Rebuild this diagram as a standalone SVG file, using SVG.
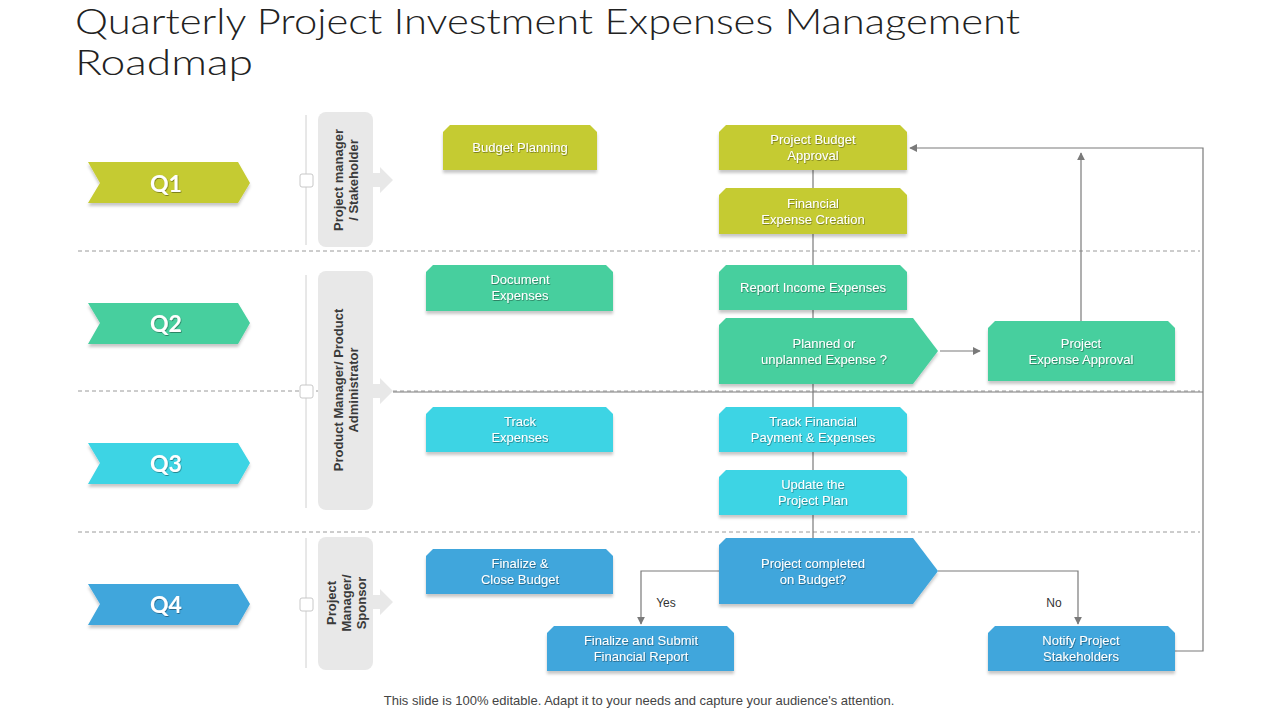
<svg xmlns="http://www.w3.org/2000/svg" width="1280" height="720" viewBox="0 0 1280 720">
<defs>
<style>
.title{font-family:"Lato","Liberation Sans",sans-serif;font-size:36px;font-weight:300;fill:#222}
.bt{font-family:"Liberation Sans",Arial,sans-serif;font-size:13px;fill:#fff;text-anchor:middle;filter:url(#ts)}
.qt{font-family:"Lato","Liberation Sans",sans-serif;font-size:23px;font-weight:bold;fill:#fff;text-anchor:middle;filter:url(#ts)}
.lane{font-family:"Liberation Sans",Arial,sans-serif;font-size:13px;font-weight:bold;fill:#3a3a3a;text-anchor:middle}
.lbl{font-family:"Liberation Sans",Arial,sans-serif;font-size:12px;fill:#333;text-anchor:middle}
.foot{font-family:"Liberation Sans",Arial,sans-serif;font-size:13px;fill:#444;text-anchor:middle}
.div{stroke:#9a9a9a;stroke-width:1;stroke-dasharray:4 3;fill:none}
.con{stroke:#7a7a7a;stroke-width:1.2;fill:none}
.vl{stroke:#d0d0d0;stroke-width:1}
.lanebg{fill:#e8e8e8}
.sq{fill:#fff;stroke:#c8c8c8;stroke-width:1}
.y{fill:#c5cb33}.g{fill:#47cf9e}.c{fill:#3dd4e4}.b{fill:#3fa6dc}
.box{filter:url(#sh)}
</style>
<filter id="sh" x="-10%" y="-10%" width="120%" height="140%">
<feDropShadow dx="0" dy="3" stdDeviation="1.5" flood-color="#000" flood-opacity="0.22"/>
</filter>
<filter id="ts" x="-10%" y="-20%" width="120%" height="150%">
<feDropShadow dx="0.6" dy="0.8" stdDeviation="0.4" flood-color="#000" flood-opacity="0.45"/>
</filter>
<marker id="ah" viewBox="0 0 10 10" refX="9" refY="5" markerWidth="8" markerHeight="8" markerUnits="userSpaceOnUse" orient="auto">
<path d="M0,0 L10,5 L0,10 Z" fill="#7a7a7a"/>
</marker>
</defs>

<rect width="1280" height="720" fill="#fff"/>

<g id="title">
<text class="title" x="75" y="34" textLength="945" lengthAdjust="spacingAndGlyphs">Quarterly Project Investment Expenses Management</text>
<text class="title" x="75" y="75" textLength="178" lengthAdjust="spacingAndGlyphs">Roadmap</text>
</g>

<g id="dividers">
<line class="div" x1="78" y1="251" x2="1200" y2="251"/>
<line class="div" x1="78" y1="391" x2="1200" y2="391"/>
<line class="div" x1="78" y1="532" x2="1200" y2="532"/>
</g>

<g id="quarters">
<g id="q1"><polygon class="y box" points="88,162 238,162 250,183 238,203 88,203 100,183"/><text class="qt" x="166" y="192">Q1</text></g>
<g id="q2"><polygon class="g box" points="88,303 238,303 250,323 238,344 88,344 100,323"/><text class="qt" x="166" y="332">Q2</text></g>
<g id="q3"><polygon class="c box" points="88,443 238,443 250,463 238,484 88,484 100,463"/><text class="qt" x="166" y="472">Q3</text></g>
<g id="q4"><polygon class="b box" points="88,584 238,584 250,604 238,625 88,625 100,604"/><text class="qt" x="166" y="613">Q4</text></g>
</g>

<g id="lanes">
<line class="vl" x1="306" y1="115" x2="306" y2="245"/>
<line class="vl" x1="306" y1="275" x2="306" y2="508"/>
<line class="vl" x1="306" y1="538" x2="306" y2="668"/>
<g id="lane1">
<polygon class="lanebg" points="373,173 380,173 380,167 393,180 380,193 380,187 373,187"/>
<rect class="lanebg" x="318" y="112" width="55" height="135" rx="8"/>
<rect class="sq" x="300" y="174" width="13" height="13" rx="2"/>
<text class="lane" transform="translate(343,180) rotate(-90)"><tspan x="0" y="0">Project manager</tspan><tspan x="0" y="15">/ Stakeholder</tspan></text>
</g>
<g id="lane2">
<polygon class="lanebg" points="373,384 380,384 380,378 393,391 380,404 380,398 373,398"/>
<rect class="lanebg" x="318" y="271" width="55" height="239" rx="8"/>
<rect class="sq" x="300" y="385" width="13" height="13" rx="2"/>
<text class="lane" transform="translate(343,390) rotate(-90)"><tspan x="0" y="0">Product Manager/ Product</tspan><tspan x="0" y="15">Administrator</tspan></text>
</g>
<g id="lane3">
<polygon class="lanebg" points="373,595 380,595 380,589 393,602 380,615 380,609 373,609"/>
<rect class="lanebg" x="318" y="537" width="55" height="133" rx="8"/>
<rect class="sq" x="300" y="598" width="13" height="13" rx="2"/>
<text class="lane" transform="translate(336,603) rotate(-90)"><tspan x="0" y="0">Project</tspan><tspan x="0" y="15">Manager/</tspan><tspan x="0" y="30">Sponsor</tspan></text>
</g>
</g>

<g id="connectors">
<line class="con" x1="813" y1="170" x2="813" y2="538"/>
<line class="con" x1="393" y1="392" x2="1203" y2="392"/>
<polyline class="con" points="1175,651 1203,651 1203,148 910,148" marker-end="url(#ah)"/>
<line class="con" x1="1081" y1="321" x2="1081" y2="153" marker-end="url(#ah)"/>
<line class="con" x1="940" y1="351" x2="980" y2="351" marker-end="url(#ah)"/>
<polyline class="con" points="719,571 641,571 641,624" marker-end="url(#ah)"/>
<polyline class="con" points="938,571 1078,571 1078,624" marker-end="url(#ah)"/>
<text class="lbl" x="666" y="607">Yes</text>
<text class="lbl" x="1054" y="607">No</text>
</g>

<g id="budget-planning"><path class="y box" d="M443,170 L443,132 L450,125 L590,125 L597,132 L597,170 Z"/><text class="bt" x="520" y="152">Budget Planning</text></g>
<g id="project-budget-approval"><path class="y box" d="M719,170 L719,132 L726,125 L900,125 L907,132 L907,170 Z"/><text class="bt" x="813" y="144">Project Budget</text><text class="bt" x="813" y="160">Approval</text></g>
<g id="financial-expense-creation"><path class="y box" d="M719,234 L719,195 L726,188 L900,188 L907,195 L907,234 Z"/><text class="bt" x="813" y="208">Financial</text><text class="bt" x="813" y="224">Expense Creation</text></g>

<g id="document-expenses"><path class="g box" d="M426,311 L426,272 L433,265 L606,265 L613,272 L613,311 Z"/><text class="bt" x="520" y="284">Document</text><text class="bt" x="520" y="300">Expenses</text></g>
<g id="report-income-expenses"><path class="g box" d="M719,310 L719,272 L726,265 L900,265 L907,272 L907,310 Z"/><text class="bt" x="813" y="292">Report Income Expenses</text></g>
<g id="planned-unplanned"><path class="g box" d="M719,384 L719,325 L726,318 L913,318 L938,351 L913,384 Z"/><text class="bt" x="824" y="348">Planned or</text><text class="bt" x="824" y="364">unplanned Expense ?</text></g>
<g id="project-expense-approval"><path class="g box" d="M988,381 L988,328 L995,321 L1168,321 L1175,328 L1175,381 Z"/><text class="bt" x="1081" y="348">Project</text><text class="bt" x="1081" y="364">Expense Approval</text></g>

<g id="track-expenses"><path class="c box" d="M426,452 L426,414 L433,407 L606,407 L613,414 L613,452 Z"/><text class="bt" x="520" y="426">Track</text><text class="bt" x="520" y="442">Expenses</text></g>
<g id="track-financial"><path class="c box" d="M719,452 L719,414 L726,407 L900,407 L907,414 L907,452 Z"/><text class="bt" x="813" y="426">Track Financial</text><text class="bt" x="813" y="442">Payment &amp; Expenses</text></g>
<g id="update-plan"><path class="c box" d="M719,515 L719,477 L726,470 L900,470 L907,477 L907,515 Z"/><text class="bt" x="813" y="489">Update the</text><text class="bt" x="813" y="505">Project Plan</text></g>

<g id="finalize-close"><path class="b box" d="M426,594 L426,556 L433,549 L606,549 L613,556 L613,594 Z"/><text class="bt" x="520" y="568">Finalize &amp;</text><text class="bt" x="520" y="584">Close Budget</text></g>
<g id="project-completed"><path class="b box" d="M719,604 L719,545 L726,538 L913,538 L938,571 L913,604 Z"/><text class="bt" x="813" y="568">Project completed</text><text class="bt" x="813" y="584">on Budget?</text></g>
<g id="finalize-submit"><path class="b box" d="M547,671 L547,633 L554,626 L727,626 L734,633 L734,671 Z"/><text class="bt" x="641" y="645">Finalize and Submit</text><text class="bt" x="641" y="661">Financial Report</text></g>
<g id="notify"><path class="b box" d="M988,671 L988,633 L995,626 L1168,626 L1175,633 L1175,671 Z"/><text class="bt" x="1081" y="645">Notify Project</text><text class="bt" x="1081" y="661">Stakeholders</text></g>

<text class="foot" x="639" y="705">This slide is 100% editable. Adapt it to your needs and capture your audience's attention.</text>
</svg>
